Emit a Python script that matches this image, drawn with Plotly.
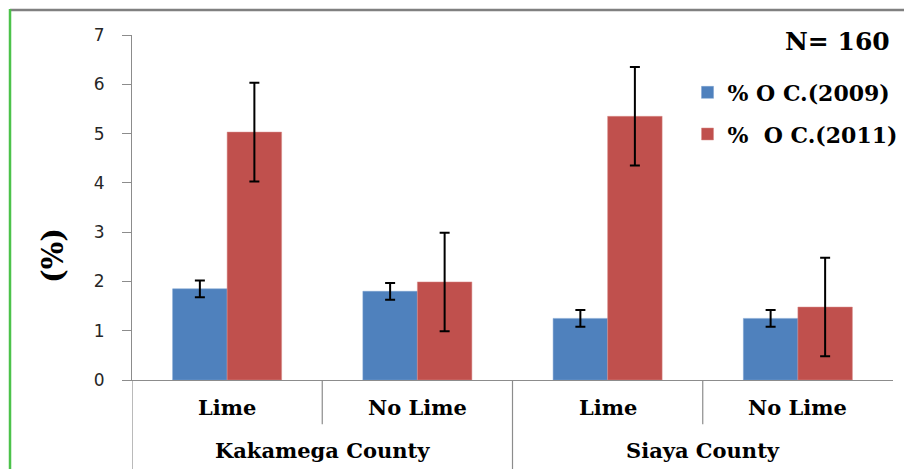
import plotly.graph_objects as go

# Organic carbon (%) by county and liming treatment
counties = ["Kakamega County", "Siaya County"]
treatments = ["Lime", "No Lime"]
oc_2009 = [1.85, 1.80, 1.25, 1.25]
oc_2009_err = [0.17, 0.17, 0.17, 0.17]
oc_2011 = [5.03, 1.99, 5.35, 1.48]
oc_2011_err = [1.0, 1.0, 1.0, 1.0]
series_names = ["% O C.(2009)", "%\u00a0 O C.(2011)"]
y_ticks = [0, 1, 2, 3, 4, 5, 6, 7]

# one slot per county/treatment pair
slots = [(c, t) for c in counties for t in treatments]
xpos = list(range(len(slots)))

serif = "DejaVu Serif"
axis_grey = "#8c8c8c"

fig = go.Figure()
fig.add_trace(go.Bar(
    x=xpos, y=oc_2009, name="<b>%s</b>" % series_names[0], legendgroup="a",
    marker=dict(color="#4F81BD", line=dict(color="#7aa0d0", width=0.5)),
    error_y=dict(type="data", array=oc_2009_err, color="black", thickness=2, width=5),
))
fig.add_trace(go.Bar(
    x=xpos, y=oc_2011, name="<b>%s</b>" % series_names[1], legendgroup="b",
    marker=dict(color="#C0504D", line=dict(color="#d88c8a", width=0.5)),
    error_y=dict(type="data", array=oc_2011_err, color="black", thickness=2, width=5),
))

# inner (treatment) labels and outer (county) labels
for x, (c, t) in zip(xpos, slots):
    fig.add_annotation(x=x, y=-0.081, xref="x", yref="paper", text="<b>%s</b>" % t,
                       showarrow=False, xanchor="center", yanchor="middle",
                       font=dict(family=serif, size=21, color="black"))
n_t = len(treatments)
for i, c in enumerate(counties):
    fig.add_annotation(x=i * n_t + (n_t - 1) / 2, y=-0.203, xref="x", yref="paper",
                       text="<b>%s</b>" % c, showarrow=False, xanchor="center",
                       yanchor="middle",
                       font=dict(family=serif, size=21, color="black"))

# category dividers below the axis
for k in range(1, len(slots)):
    full = (k % n_t == 0)
    fig.add_shape(type="line", xref="x", yref="paper", x0=k - 0.5, x1=k - 0.5,
                  y0=0, y1=-0.26 if full else -0.128,
                  line=dict(color=axis_grey, width=1.2))
# y axis line continues down through the label area
fig.add_shape(type="line", xref="x", yref="paper", x0=-0.5, x1=-0.5, y0=0, y1=-0.26,
              line=dict(color=axis_grey, width=1.2))

# frame edges
fig.add_shape(type="line", xref="paper", yref="paper", x0=-0.1603, x1=1.02,
              y0=1.0725, y1=1.0725, line=dict(color="#808080", width=2.5))
fig.add_shape(type="line", xref="paper", yref="paper", x0=-0.1603, x1=-0.1603,
              y0=1.0755, y1=-0.27, line=dict(color="#4cc24a", width=2.5))

fig.add_annotation(x=-0.104, y=0.362, xref="paper", yref="paper", text="<b>(%)</b>",
                   showarrow=False, textangle=-90, xanchor="center", yanchor="middle",
                   font=dict(family=serif, size=29, color="black"))
fig.add_annotation(x=0.9277, y=0.98, xref="paper", yref="paper", text="<b>N= 160</b>",
                   showarrow=False, xanchor="center", yanchor="middle",
                   font=dict(family=serif, size=25, color="black"))

fig.update_layout(
    width=904, height=469,
    margin=dict(l=132, r=11, t=35, b=89, autoexpand=False),
    paper_bgcolor="white", plot_bgcolor="white",
    barmode="group", bargap=0.427, bargroupgap=0,
    showlegend=True,
    legend=dict(x=0.730, y=0.894, xanchor="left", yanchor="top",
                font=dict(family=serif, size=22, color="black"),
                tracegroupgap=10, traceorder="grouped",
                bgcolor="rgba(0,0,0,0)", itemwidth=30),
    xaxis=dict(range=[-0.5, len(slots) - 0.5], showticklabels=False, showgrid=False,
               zeroline=False, showline=True, linecolor=axis_grey, linewidth=1.2,
               ticks=""),
    yaxis=dict(range=[0, 7], tickvals=y_ticks, showgrid=False, zeroline=False,
               showline=True, linecolor=axis_grey, linewidth=1.2,
               ticks="outside", ticklen=9, tickcolor=axis_grey, ticklabelstandoff=14,
               tickfont=dict(family="DejaVu Sans", size=17, color="#262626")),
)

fig.write_html("out.html")
